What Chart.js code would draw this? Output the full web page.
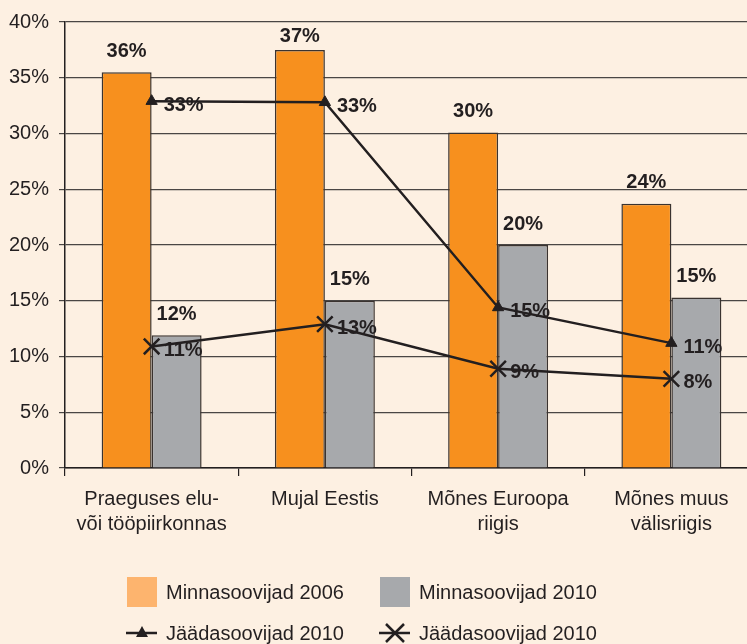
<!DOCTYPE html>
<html>
<head>
<meta charset="utf-8">
<script src="https://cdn.jsdelivr.net/npm/chart.js@4"></script>
<style>
html, body { margin: 0; padding: 0; background: #fdf0e2; overflow: hidden; }
#clip { width: 747px; height: 644px; overflow: hidden; position: relative; }
#wrap { width: 760px; height: 644px; position: absolute; left: 0; top: 0; }
canvas { display: block; width: 760px; height: 644px; }
</style>
</head>
<body>
<div id="clip"><div id="wrap"><canvas id="chart" width="760" height="644"></canvas></div></div>
<script>
const categories = [['Praeguses elu-', 'või tööpiirkonnas'], 'Mujal Eestis', ['Mõnes Euroopa', 'riigis'], ['Mõnes muus', 'välisriigis']];
const leaving2006 = [35.5, 37.5, 30.1, 23.7];
const leaving2010 = [11.9, 15.0, 20.0, 15.3];
const stayingTriangle = [32.9, 32.8, 14.4, 11.2];
const stayingCross = [10.9, 12.9, 8.9, 8.0];
const leaving2006Labels = ['36%', '37%', '30%', '24%'];
const leaving2010Labels = ['12%', '15%', '20%', '15%'];
const stayingTriangleLabels = ['33%', '33%', '15%', '11%'];
const stayingCrossLabels = ['11%', '13%', '9%', '8%'];
const yTicks = [0, 5, 10, 15, 20, 25, 30, 35, 40];

const FONT = '"Liberation Sans", Arial, Helvetica, sans-serif';
const INK = '#231f20';

const valueLabels = {
    id: 'valueLabels',
    afterDatasetsDraw(chart) {
        const ctx = chart.ctx;
        const top = chart.chartArea.top;
        ctx.save();
        ctx.fillStyle = INK;
        ctx.font = `bold 20px ${FONT}`;
        ctx.textBaseline = 'middle';
        chart.data.datasets.forEach((ds, i) => {
            const meta = chart.getDatasetMeta(i);
            meta.data.forEach((el, j) => {
                const text = ds.printed[j];
                if (ds.type === 'bar') {
                    ctx.textAlign = 'center';
                    ctx.fillText(text, el.x, Math.max(el.y - 21, top + 14));
                } else {
                    ctx.textAlign = 'left';
                    ctx.fillText(text, el.x + 12, el.y + 4);
                }
            });
        });
        ctx.restore();
    }
};

// legend drawn by hand: 2 x 2 grid under the axis
const gridLegend = {
    id: 'gridLegend',
    afterDraw(chart) {
        const ctx = chart.ctx;
        const cols = [127, 380];
        const rows = [592, 633];
        ctx.save();
        ctx.font = `20px ${FONT}`;
        ctx.textBaseline = 'middle';
        ctx.textAlign = 'left';
        chart.data.datasets.forEach((ds, i) => {
            const x = cols[i % 2];
            const y = rows[Math.floor(i / 2)];
            if (ds.type === 'bar') {
                ctx.fillStyle = ds.legendColor;
                ctx.fillRect(x, y - 15, 30, 30);
            } else {
                ctx.strokeStyle = INK;
                ctx.fillStyle = INK;
                ctx.lineWidth = 2.5;
                ctx.beginPath();
                ctx.moveTo(x - 1, y);
                ctx.lineTo(x + 30, y);
                ctx.stroke();
                const cx = x + 15;
                if (ds.pointStyle === 'triangle') {
                    ctx.beginPath();
                    ctx.moveTo(cx, y - 7);
                    ctx.lineTo(cx + 6, y + 4);
                    ctx.lineTo(cx - 6, y + 4);
                    ctx.closePath();
                    ctx.fill();
                } else {
                    ctx.beginPath();
                    ctx.moveTo(cx - 9, y - 9);
                    ctx.lineTo(cx + 9, y + 9);
                    ctx.moveTo(cx + 9, y - 9);
                    ctx.lineTo(cx - 9, y + 9);
                    ctx.stroke();
                }
            }
            ctx.fillStyle = INK;
            ctx.fillText(ds.label, x + 39, y + 1);
        });
        ctx.restore();
    }
};

new Chart(document.getElementById('chart').getContext('2d'), {
    data: {
        labels: categories,
        datasets: [
            {
                type: 'bar',
                label: 'Minnasoovijad 2006',
                data: leaving2006,
                printed: leaving2006Labels,
                backgroundColor: '#f7901e',
                legendColor: '#fdb46e',
                borderColor: '#3a3330',
                borderWidth: 1.5,
                categoryPercentage: 0.577,
                barPercentage: 1,
                order: 2
            },
            {
                type: 'bar',
                label: 'Minnasoovijad 2010',
                data: leaving2010,
                printed: leaving2010Labels,
                backgroundColor: '#a7a9ac',
                legendColor: '#a7a9ac',
                borderColor: '#3a3330',
                borderWidth: 1.5,
                categoryPercentage: 0.577,
                barPercentage: 1,
                order: 2
            },
            {
                type: 'line',
                label: 'Jäädasoovijad 2010',
                data: stayingTriangle,
                printed: stayingTriangleLabels,
                borderColor: INK,
                borderWidth: 2.5,
                pointStyle: 'triangle',
                pointRadius: 6.5,
                pointBackgroundColor: INK,
                pointBorderColor: INK,
                pointBorderWidth: 1,
                tension: 0,
                order: 1
            },
            {
                type: 'line',
                label: 'Jäädasoovijad 2010',
                data: stayingCross,
                printed: stayingCrossLabels,
                borderColor: INK,
                borderWidth: 2.5,
                pointStyle: 'crossRot',
                pointRadius: 11,
                pointBorderColor: INK,
                pointBorderWidth: 2.5,
                tension: 0,
                order: 1
            }
        ]
    },
    options: {
        responsive: false,
        animation: false,
        layout: { autoPadding: false, padding: { top: 19, right: 2, left: 0, bottom: 0 } },
        plugins: {
            legend: { display: false },
            tooltip: { enabled: false }
        },
        scales: {
            x: {
                offset: true,
                afterFit(scale) {
                    scale.height = 176;
                    scale.paddingLeft = 0;
                    scale.paddingRight = 0;
                },
                grid: { offset: true, drawOnChartArea: false, color: INK, lineWidth: 1.2, tickLength: 8 },
                border: { color: INK, width: 1.5 },
                ticks: {
                    color: INK,
                    font: { family: FONT, size: 20, lineHeight: 1.25 },
                    padding: 11,
                    maxRotation: 0,
                    autoSkip: false
                }
            },
            y: {
                min: 0,
                max: 40,
                afterFit(scale) { scale.width = 65; },
                afterBuildTicks(scale) { scale.ticks = yTicks.map(v => ({ value: v })); },
                grid: { color: '#4a4644', lineWidth: 1.2, tickLength: 6 },
                border: { color: INK, width: 1.5 },
                ticks: {
                    color: INK,
                    font: { family: FONT, size: 20 },
                    padding: 10,
                    callback: v => `${v}%`
                }
            }
        }
    },
    plugins: [valueLabels, gridLegend]
});
</script>
</body>
</html>
